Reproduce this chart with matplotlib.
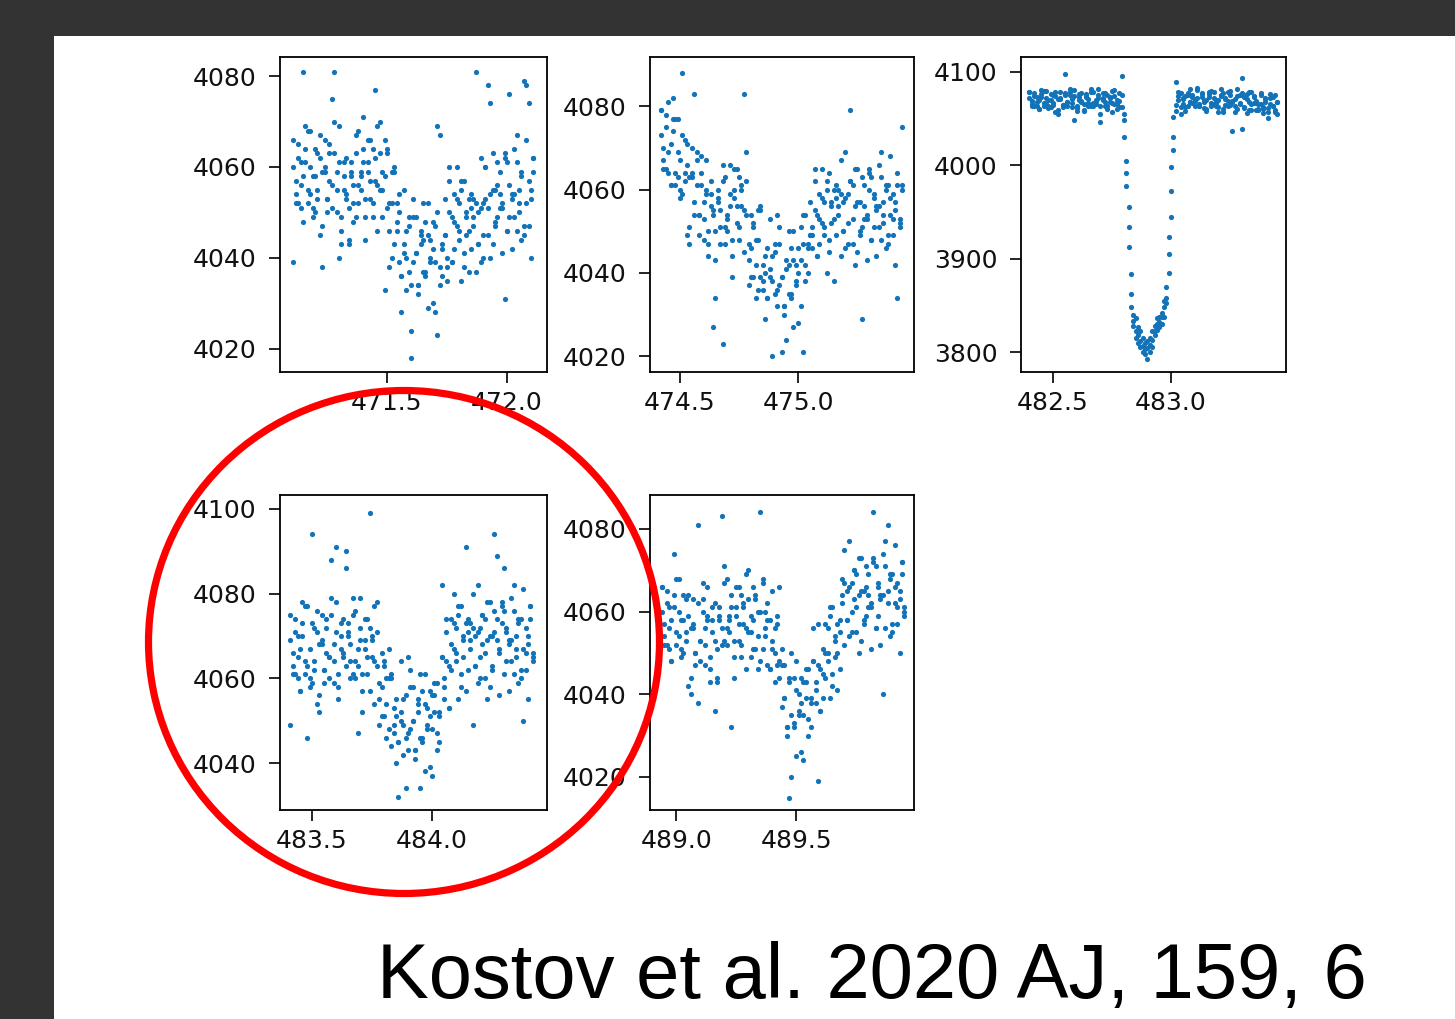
import matplotlib
matplotlib.use("Agg")
import matplotlib.pyplot as plt
from matplotlib.patches import Rectangle, Ellipse

# ---------------- data ----------------
x1 = [471.11, 471.12, 471.13, 471.14, 471.15, 471.16, 471.17, 471.18, 471.19, 471.20,
      471.21, 471.22, 471.23, 471.24, 471.25, 471.26, 471.27, 471.28, 471.29, 471.30,
      471.31, 471.32, 471.33, 471.34, 471.35, 471.36, 471.37, 471.38, 471.39, 471.40,
      471.41, 471.42, 471.43, 471.44, 471.45, 471.46, 471.47, 471.48, 471.49, 471.50,
      471.51, 471.52, 471.53, 471.54, 471.55, 471.56, 471.57, 471.58, 471.59, 471.60,
      471.61, 471.62, 471.63, 471.64, 471.65, 471.66, 471.67, 471.68, 471.69, 471.70,
      471.71, 471.72, 471.73, 471.74, 471.75, 471.76, 471.77, 471.78, 471.79, 471.80,
      471.81, 471.82, 471.83, 471.84, 471.85, 471.86, 471.87, 471.88, 471.89, 471.90,
      471.91, 471.92, 471.93, 471.94, 471.95, 471.96, 471.97, 471.98, 471.99, 472.00,
      472.01, 472.02, 472.03, 472.04, 472.05, 472.06, 472.07, 472.08, 472.09, 472.10,
      472.11]
y1a = [4060, 4052, 4065, 4056, 4081, 4061, 4068, 4054, 4058, 4050,
       4063, 4045, 4059, 4066, 4053, 4057, 4051, 4070, 4055, 4040,
       4046, 4061, 4053, 4044, 4058, 4056, 4049, 4068, 4055, 4064,
       4044, 4059, 4066, 4052, 4077, 4056, 4070, 4049, 4058, 4063,
       4046, 4059, 4043, 4052, 4039, 4028, 4041, 4046, 4037, 4018,
       4039, 4049, 4034, 4043, 4052, 4036, 4045, 4040, 4030, 4047,
       4050, 4038, 4042, 4053, 4035, 4050, 4039, 4054, 4047, 4052,
       4035, 4057, 4045, 4053, 4042, 4049, 4081, 4043, 4051, 4040,
       4060, 4051, 4074, 4043, 4055, 4049, 4059, 4052, 4062, 4046,
       4076, 4042, 4054, 4061, 4050, 4058, 4047, 4066, 4074, 4053,
       4059]
y1b = [4066, 4057, 4052, 4061, 4048, 4064, 4055, 4068, 4051, 4058,
       4053, 4062, 4038, 4060, 4050, 4065, 4075, 4063, 4059, 4069,
       4049, 4058, 4054, 4043, 4061, 4052, 4063, 4052, 4059, 4071,
       4049, 4061, 4053, 4064, 4057, 4046, 4063, 4055, 4066, 4051,
       4052, 4040, 4060, 4048, 4054, 4036, 4043, 4033, 4049, 4024,
       4053, 4041, 4034, 4045, 4037, 4048, 4029, 4044, 4042, 4039,
       4023, 4034, 4043, 4045, 4038, 4057, 4049, 4042, 4060, 4046,
       4055, 4038, 4049, 4046, 4051, 4053, 4037, 4050, 4039, 4052,
       4053, 4078, 4040, 4055, 4048, 4061, 4054, 4051, 4063, 4046,
       4056, 4054, 4049, 4067, 4052, 4059, 4045, 4078, 4047, 4055,
       4062]
y1c = [4039, 4054, 4062, 4051, 4058, 4069, 4052, 4060, 4049, 4064,
       4055, 4067, 4047, 4059, 4053, 4063, 4056, 4081, 4050, 4061,
       4043, 4055, 4062, 4051, 4059, 4048, 4067, 4056, 4058, 4061,
       4053, 4066, 4057, 4049, 4062, 4069, 4055, 4059, 4033, 4064,
       4038, 4052, 4059, 4046, 4050, 4036, 4055, 4040, 4047, 4034,
       4049, 4041, 4032, 4046, 4044, 4037, 4052, 4039, 4048, 4028,
       4069, 4067, 4036, 4045, 4040, 4060, 4039, 4048, 4053, 4044,
       4057, 4041, 4050, 4037, 4054, 4047, 4052, 4043, 4062, 4045,
       4060, 4045, 4054, 4063, 4047, 4056, 4051, 4041, 4031, 4061,
       4049, 4053, 4064, 4046, 4055, 4044, 4079, 4052, 4057, 4040,
       4062]

x2 = [474.42, 474.43, 474.44, 474.45, 474.46, 474.47, 474.48, 474.49, 474.50, 474.51,
      474.52, 474.53, 474.54, 474.55, 474.56, 474.57, 474.58, 474.59, 474.60, 474.61,
      474.62, 474.63, 474.64, 474.65, 474.66, 474.67, 474.68, 474.69, 474.70, 474.71,
      474.72, 474.73, 474.74, 474.75, 474.76, 474.77, 474.78, 474.79, 474.80, 474.81,
      474.82, 474.83, 474.84, 474.85, 474.86, 474.87, 474.88, 474.89, 474.90, 474.91,
      474.92, 474.93, 474.94, 474.95, 474.96, 474.97, 474.98, 474.99, 475.00, 475.01,
      475.02, 475.03, 475.04, 475.05, 475.06, 475.07, 475.08, 475.09, 475.10, 475.11,
      475.12, 475.13, 475.14, 475.15, 475.16, 475.17, 475.18, 475.19, 475.20, 475.21,
      475.22, 475.23, 475.24, 475.25, 475.26, 475.27, 475.28, 475.29, 475.30, 475.31,
      475.32, 475.33, 475.34, 475.35, 475.36, 475.37, 475.38, 475.39, 475.40, 475.41,
      475.42, 475.43, 475.44]
y2a = [4073, 4065, 4078, 4069, 4061, 4074, 4077, 4063, 4067, 4059,
       4072, 4049, 4063, 4070, 4083, 4061, 4049, 4068, 4053, 4060,
       4047, 4062, 4054, 4043, 4057, 4055, 4023, 4063, 4050, 4059,
       4039, 4058, 4065, 4051, 4060, 4055, 4069, 4037, 4046, 4051,
       4042, 4055, 4039, 4042, 4029, 4046, 4039, 4044, 4035, 4054,
       4037, 4021, 4032, 4041, 4050, 4034, 4043, 4038, 4028, 4051,
       4054, 4042, 4046, 4057, 4046, 4055, 4044, 4059, 4052, 4057,
       4040, 4064, 4052, 4060, 4049, 4056, 4067, 4050, 4058, 4047,
       4062, 4053, 4065, 4045, 4057, 4051, 4061, 4054, 4064, 4048,
       4059, 4044, 4056, 4063, 4052, 4060, 4049, 4068, 4053, 4055,
       4061, 4051, 4075]
y2b = [4079, 4067, 4075, 4064, 4071, 4082, 4061, 4069, 4058, 4073,
       4064, 4071, 4051, 4063, 4057, 4067, 4054, 4064, 4048, 4059,
       4044, 4056, 4027, 4050, 4058, 4047, 4066, 4051, 4053, 4056,
       4048, 4065, 4056, 4048, 4061, 4083, 4054, 4047, 4039, 4052,
       4034, 4048, 4055, 4036, 4040, 4034, 4053, 4038, 4045, 4032,
       4047, 4039, 4030, 4024, 4042, 4035, 4050, 4037, 4046, 4032,
       4047, 4054, 4040, 4049, 4051, 4065, 4044, 4053, 4058, 4049,
       4062, 4048, 4057, 4038, 4061, 4054, 4059, 4050, 4069, 4052,
       4062, 4047, 4056, 4065, 4049, 4029, 4053, 4043, 4060, 4063,
       4051, 4055, 4066, 4048, 4057, 4046, 4061, 4054, 4059, 4042,
       4034, 4052, 4061]
y2c = [4079, 4070, 4065, 4081, 4061, 4077, 4064, 4077, 4060, 4088,
       4062, 4066, 4047, 4064, 4054, 4069, 4054, 4061, 4057, 4067,
       4050, 4059, 4055, 4034, 4060, 4051, 4062, 4047, 4054, 4066,
       4044, 4060, 4052, 4063, 4056, 4045, 4062, 4043, 4054, 4039,
       4048, 4036, 4056, 4038, 4044, 4034, 4041, 4020, 4047, 4036,
       4051, 4039, 4032, 4043, 4035, 4046, 4027, 4042, 4040, 4043,
       4021, 4038, 4047, 4049, 4049, 4062, 4054, 4047, 4065, 4051,
       4060, 4045, 4056, 4053, 4058, 4060, 4044, 4057, 4046, 4059,
       4079, 4061, 4042, 4057, 4050, 4063, 4056, 4053, 4065, 4048,
       4058, 4056, 4051, 4069, 4054, 4061, 4047, 4058, 4049, 4057,
       4064, 4053, 4060]

x3 = [482.40, 482.41, 482.42, 482.43, 482.44, 482.45, 482.46, 482.47, 482.48, 482.49,
      482.50, 482.51, 482.52, 482.53, 482.54, 482.55, 482.56, 482.57, 482.58, 482.59,
      482.60, 482.61, 482.62, 482.63, 482.64, 482.65, 482.66, 482.67, 482.68, 482.69,
      482.70, 482.71, 482.72, 482.73, 482.74, 482.75, 482.76, 482.77, 482.78, 482.79,
      482.80, 482.81, 482.82, 482.83, 482.84, 482.85, 482.86, 482.87, 482.88, 482.89,
      482.90, 482.91, 482.92, 482.93, 482.94, 482.95, 482.96, 482.97, 482.98, 482.99,
      483.00, 483.01, 483.02, 483.03, 483.04, 483.05, 483.06, 483.07, 483.08, 483.09,
      483.10, 483.11, 483.12, 483.13, 483.14, 483.15, 483.16, 483.17, 483.18, 483.19,
      483.20, 483.21, 483.22, 483.23, 483.24, 483.25, 483.26, 483.27, 483.28, 483.29,
      483.30, 483.31, 483.32, 483.33, 483.34, 483.35, 483.36, 483.37, 483.38, 483.39,
      483.40, 483.41, 483.42, 483.43, 483.44, 483.45]
y3a = [4072, 4064, 4077, 4068, 4060, 4073, 4080, 4066, 4070, 4062,
       4075, 4057, 4071, 4078, 4065, 4098, 4063, 4082, 4067, 4074,
       4061, 4076, 4068, 4059, 4073, 4071, 4064, 4079, 4066, 4075,
       4055, 4070, 4077, 4063, 4072, 4067, 4081, 4060, 4069, 4096,
       4055, 4005, 3955, 3884, 3840, 3822, 3818, 3812, 3806, 3798,
       3793, 3800, 3813, 3818, 3830, 3838, 3837, 3848, 3858, 3885,
       3945, 4016,
       4089, 4078, 4062, 4071, 4058, 4075, 4068, 4073, 4064, 4083,
       4066, 4076, 4061, 4070, 4079, 4063, 4072, 4067, 4057, 4074,
       4077, 4065, 4069, 4080, 4037, 4071, 4060, 4075, 4094, 4073,
       4056, 4078, 4066, 4074, 4059, 4066, 4077, 4060, 4068, 4057,
       4072, 4063, 4075, 4055]
y3b = [4078, 4069, 4064, 4073, 4060, 4076, 4067, 4080, 4063, 4070,
       4065, 4074, 4055, 4072, 4062, 4077, 4068, 4075, 4071, 4081,
       4064, 4073, 4069, 4058, 4076, 4067, 4078, 4063, 4070, 4082,
       4046, 4072, 4064, 4075, 4068, 4057, 4074, 4066, 4077, 4062,
       4048, 3992, 3934, 3862, 3828, 3836, 3827, 3822, 3815, 3810,
       3804, 3815, 3822, 3828, 3836, 3832, 3830, 3855, 3870, 3905,
       3973, 4030,
       4065, 4074, 4055, 4072, 4062, 4077, 4068, 4075, 4071, 4081,
       4064, 4073, 4069, 4058, 4076, 4067, 4078, 4063, 4070, 4082,
       4060, 4072, 4064, 4075, 4068, 4057, 4074, 4066, 4077, 4062,
       4071, 4059, 4079, 4067, 4069, 4059, 4066, 4056, 4072, 4061,
       4076, 4064, 4057, 4068]
y3c = [4078, 4066, 4074, 4063, 4070, 4081, 4064, 4072, 4061, 4076,
       4067, 4079, 4059, 4071, 4065, 4075, 4068, 4078, 4062, 4049,
       4058, 4070, 4077, 4066, 4074, 4063, 4082, 4067, 4069, 4072,
       4064, 4077, 4068, 4060, 4073, 4080, 4066, 4070, 4062, 4075,
       4030, 3978, 3913, 3848, 3833, 3815, 3810, 3805, 3800, 3803,
       3812, 3808, 3805, 3823, 3824, 3827, 3842, 3838, 3852, 3923,
       3998, 4052,
       4058, 4070, 4077, 4066, 4074, 4063, 4082, 4067, 4069, 4072,
       4064, 4077, 4068, 4060, 4073, 4080, 4066, 4070, 4062, 4075,
       4057, 4071, 4078, 4065, 4069, 4063, 4082, 4067, 4039, 4061,
       4076, 4068, 4059, 4073, 4067, 4060, 4075, 4062, 4071, 4051,
       4066, 4073, 4059, 4068]

x4 = [483.41, 483.42, 483.43, 483.44, 483.45, 483.46, 483.47, 483.48, 483.49, 483.50,
      483.51, 483.52, 483.53, 483.54, 483.55, 483.56, 483.57, 483.58, 483.59, 483.60,
      483.61, 483.62, 483.63, 483.64, 483.65, 483.66, 483.67, 483.68, 483.69, 483.70,
      483.71, 483.72, 483.73, 483.74, 483.75, 483.76, 483.77, 483.78, 483.79, 483.80,
      483.81, 483.82, 483.83, 483.84, 483.85, 483.86, 483.87, 483.88, 483.89, 483.90,
      483.91, 483.92, 483.93, 483.94, 483.95, 483.96, 483.97, 483.98, 483.99, 484.00,
      484.01, 484.02, 484.03, 484.04, 484.05, 484.06, 484.07, 484.08, 484.09, 484.10,
      484.11, 484.12, 484.13, 484.14, 484.15, 484.16, 484.17, 484.18, 484.19, 484.20,
      484.21, 484.22, 484.23, 484.24, 484.25, 484.26, 484.27, 484.28, 484.29, 484.30,
      484.31, 484.32, 484.33, 484.34, 484.35, 484.36, 484.37, 484.38, 484.39, 484.40,
      484.41, 484.42]
y4a = [4069, 4061, 4074, 4065, 4057, 4070, 4077, 4063, 4067, 4059,
       4072, 4054, 4068, 4075, 4062, 4066, 4060, 4079, 4064, 4071,
       4058, 4073, 4065, 4090, 4070, 4068, 4061, 4076, 4063, 4072,
       4052, 4067, 4074, 4099, 4069, 4064, 4078, 4049, 4058, 4063,
       4054, 4067, 4044, 4053, 4040, 4032, 4050, 4055, 4046, 4065,
       4048, 4058, 4043, 4052, 4061, 4045, 4054, 4049, 4039, 4056,
       4059, 4047, 4051, 4082, 4055, 4064, 4053, 4074, 4067, 4072,
       4055, 4077, 4065, 4073, 4062, 4069, 4080, 4063, 4071, 4060,
       4075, 4066, 4078, 4058, 4070, 4094, 4074, 4067, 4077, 4061,
       4072, 4057, 4069, 4076, 4065, 4073, 4062, 4081, 4066, 4068,
       4074, 4064]
y4b = [4049, 4066, 4061, 4070, 4057, 4073, 4064, 4077, 4060, 4094,
       4062, 4071, 4052, 4069, 4059, 4074, 4065, 4088, 4068, 4078,
       4061, 4070, 4066, 4086, 4073, 4064, 4075, 4060, 4067, 4079,
       4057, 4069, 4061, 4072, 4065, 4054, 4071, 4055, 4066, 4051,
       4060, 4048, 4061, 4049, 4055, 4045, 4052, 4042, 4034, 4047,
       4062, 4050, 4043, 4054, 4046, 4057, 4038, 4053, 4051, 4048,
       4056, 4043, 4052, 4065, 4058, 4071, 4063, 4062, 4080, 4066,
       4075, 4058, 4069, 4091, 4071, 4073, 4049, 4070, 4059, 4072,
       4068, 4074, 4055, 4070, 4063, 4076, 4069, 4066, 4078, 4086,
       4071, 4069, 4064, 4082, 4067, 4074, 4060, 4050, 4062, 4070,
       4077, 4066]
y4c = [4075, 4063, 4071, 4060, 4067, 4078, 4061, 4046, 4058, 4073,
       4064, 4076, 4056, 4068, 4062, 4072, 4065, 4075, 4059, 4091,
       4055, 4067, 4074, 4063, 4071, 4060, 4079, 4064, 4047, 4069,
       4061, 4074, 4065, 4057, 4070, 4077, 4063, 4059, 4051, 4064,
       4046, 4060, 4060, 4047, 4051, 4045, 4064, 4049, 4056, 4043,
       4058, 4050, 4041, 4055, 4034, 4046, 4061, 4048, 4057, 4037,
       4052, 4059, 4045, 4065, 4060, 4074, 4053, 4068, 4073, 4064,
       4077, 4061, 4070, 4057, 4074, 4067, 4072, 4063, 4082, 4065,
       4075, 4060, 4069, 4078, 4062, 4071, 4089, 4056, 4073, 4076,
       4064, 4068, 4079, 4061, 4070, 4059, 4074, 4067, 4072, 4055,
       4077, 4065]

x5 = [488.94, 488.95, 488.96, 488.97, 488.98, 488.99, 489.00, 489.01, 489.02, 489.03,
      489.04, 489.05, 489.06, 489.07, 489.08, 489.09, 489.10, 489.11, 489.12, 489.13,
      489.14, 489.15, 489.16, 489.17, 489.18, 489.19, 489.20, 489.21, 489.22, 489.23,
      489.24, 489.25, 489.26, 489.27, 489.28, 489.29, 489.30, 489.31, 489.32, 489.33,
      489.34, 489.35, 489.36, 489.37, 489.38, 489.39, 489.40, 489.41, 489.42, 489.43,
      489.44, 489.45, 489.46, 489.47, 489.48, 489.49, 489.50, 489.51, 489.52, 489.53,
      489.54, 489.55, 489.56, 489.57, 489.58, 489.59, 489.60, 489.61, 489.62, 489.63,
      489.64, 489.65, 489.66, 489.67, 489.68, 489.69, 489.70, 489.71, 489.72, 489.73,
      489.74, 489.75, 489.76, 489.77, 489.78, 489.79, 489.80, 489.81, 489.82, 489.83,
      489.84, 489.85, 489.86, 489.87, 489.88, 489.89, 489.90, 489.91, 489.92, 489.93,
      489.94, 489.95]
y5a = [4060, 4052, 4065, 4056, 4048, 4061, 4068, 4054, 4058, 4050,
       4063, 4042, 4056, 4063, 4050, 4081, 4048, 4067, 4052, 4059,
       4046, 4061, 4053, 4044, 4058, 4056, 4053, 4068, 4055, 4064,
       4044, 4059, 4066, 4052, 4061, 4056, 4070, 4049, 4058, 4063,
       4054, 4084, 4051, 4060, 4047, 4058, 4051, 4056, 4047, 4066,
       4037, 4047, 4032, 4015, 4050, 4032, 4041, 4036, 4026, 4043,
       4046, 4034, 4038, 4056, 4038, 4047, 4036, 4051, 4044, 4056,
       4039, 4061, 4049, 4057, 4046, 4064, 4075, 4058, 4066, 4055,
       4070, 4061, 4073, 4053, 4065, 4059, 4069, 4062, 4072, 4056,
       4067, 4052, 4064, 4071, 4081, 4068, 4057, 4076, 4061, 4063,
       4069, 4059]
y5b = [4066, 4054, 4062, 4051, 4058, 4074, 4052, 4060, 4049, 4064,
       4055, 4064, 4044, 4056, 4050, 4038, 4053, 4063, 4047, 4058,
       4043, 4055, 4062, 4051, 4059, 4083, 4071, 4056, 4058, 4061,
       4053, 4066, 4057, 4049, 4062, 4069, 4055, 4059, 4051, 4064,
       4046, 4060, 4067, 4054, 4058, 4046, 4065, 4050, 4057, 4044,
       4047, 4039, 4030, 4044, 4020, 4033, 4048, 4035, 4044, 4024,
       4039, 4046, 4032, 4048, 4043, 4057, 4036, 4045, 4050, 4048,
       4061, 4045, 4054, 4041, 4058, 4062, 4067, 4058, 4077, 4060,
       4070, 4055, 4064, 4073, 4057, 4066, 4061, 4051, 4084, 4071,
       4059, 4063, 4074, 4056, 4065, 4054, 4069, 4062, 4067, 4050,
       4072, 4060]
y5c = [4066, 4057, 4052, 4061, 4048, 4064, 4055, 4068, 4051, 4058,
       4053, 4059, 4040, 4057, 4047, 4062, 4053, 4060, 4056, 4066,
       4049, 4058, 4036, 4043, 4061, 4052, 4067, 4052, 4059, 4032,
       4049, 4061, 4053, 4064, 4057, 4046, 4063, 4055, 4066, 4051,
       4060, 4048, 4068, 4056, 4062, 4046, 4053, 4043, 4059, 4048,
       4051, 4039, 4032, 4043, 4035, 4044, 4025, 4040, 4038, 4035,
       4043, 4030, 4039, 4048, 4041, 4019, 4046, 4039, 4057, 4050,
       4059, 4042, 4053, 4050, 4055, 4068, 4052, 4065, 4054, 4067,
       4063, 4069, 4050, 4065, 4058, 4071, 4064, 4061, 4073, 4056,
       4066, 4064, 4040, 4077, 4062, 4069, 4055, 4066, 4057, 4065,
       4072, 4061]

xticks = [[471.5, 472.0], [474.5, 475.0], [482.5, 483.0], [483.5, 484.0], [489.0, 489.5]]
yticks = [[4020, 4040, 4060, 4080], [4020, 4040, 4060, 4080], [3800, 3900, 4000, 4100],
          [4040, 4060, 4080, 4100], [4020, 4040, 4060, 4080]]
caption = "Kostov et al. 2020 AJ, 159, 6"

# ---------------- layout ----------------
W, H = 1455, 1019
fig = plt.figure(figsize=(W / 100, H / 100), dpi=100, facecolor='#333333')
fig.add_artist(Rectangle((54 / W, 0), 1 - 54 / W, 1 - 36 / H, transform=fig.transFigure,
                         facecolor='white', edgecolor='none', zorder=-5))

boxes = [(280, 57, 547, 372), (650, 57, 914, 372), (1021, 57, 1286, 372),
         (280, 495, 547, 810), (650, 495, 914, 810)]
xlims = [(471.054, 472.167), (474.373, 475.49), (482.364, 483.487),
         (483.367, 484.479), (488.891, 489.99)]
ylims = [(4014.9, 4084.2), (4016.2, 4091.8), (3778.6, 4116.0),
         (4028.9, 4103.3), (4012.0, 4088.2)]
series = [(x1, [y1a, y1b, y1c]), (x2, [y2a, y2b, y2c]), (x3, [y3a, y3b, y3c]),
          (x4, [y4a, y4b, y4c]), (x5, [y5a, y5b, y5c])]

blue = '#1273b8'
for k, (l, t, r, b) in enumerate(boxes):
    ax = fig.add_axes([l / W, 1 - b / H, (r - l) / W, (b - t) / H])
    xs, ys = series[k]
    for yy in ys:
        ax.scatter(xs, yy, s=14, color=blue, linewidths=0)
    ax.set_xlim(*xlims[k])
    ax.set_ylim(*ylims[k])
    ax.set_xticks(xticks[k])
    ax.set_yticks(yticks[k])
    ax.ticklabel_format(useOffset=False)
    ax.tick_params(labelsize=18, length=7.7, width=1.2, color='black', labelcolor='#111111')
    ax.tick_params(axis='y', pad=9)
    ax.tick_params(axis='x', pad=6)
    for sp in ax.spines.values():
        sp.set_linewidth(1.3)

fig.add_artist(Ellipse((404 / W, 1 - 642 / H), 511 / W, 503 / H, transform=fig.transFigure,
                       fill=False, edgecolor='#ff0000', linewidth=5.2, zorder=10))

fig.text(377 / W, 1 - 998 / H, caption, fontsize=56, family=['Liberation Sans', 'DejaVu Sans'],
         ha='left', va='baseline', color='black')

fig.savefig('out.png', dpi=100, facecolor=fig.get_facecolor())
